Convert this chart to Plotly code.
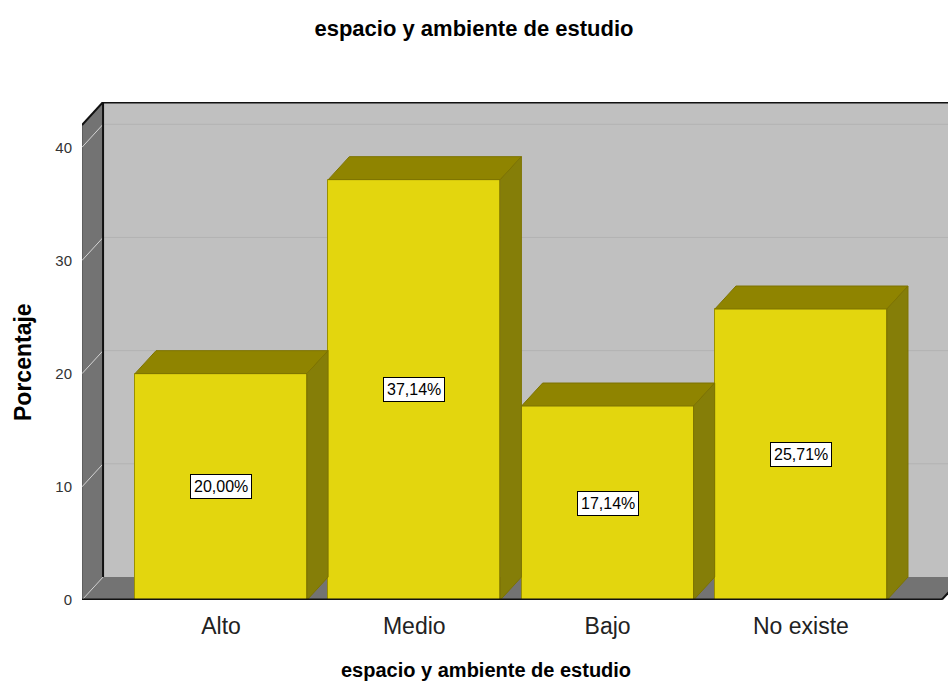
import plotly.graph_objects as go

# Data
categories = ["Alto", "Medio", "Bajo", "No existe"]
percentages = [20.00, 37.14, 17.14, 25.71]
y_ticks = [0, 10, 20, 30, 40]

# 3D styling parameters (depth offsets in axis units)
DX = 0.109
DY = 2.03
BAR_W = 0.89
X_MIN, X_MAX = -0.719, 3.761
Y_MAX = 44.0

FRONT = "#e3d60e"
TOP = "#8f8400"
SIDE = "#857e08"
WALL = "#c0c0c0"
DARK_WALL = "#737373"
FONT = "Liberation Sans, Arial, sans-serif"

xs = list(range(len(categories)))

fig = go.Figure()

# Front faces of bars
fig.add_trace(go.Bar(
    x=xs, y=percentages, width=BAR_W,
    marker=dict(color=FRONT, line=dict(color="#9a9000", width=1)),
    hoverinfo="skip", showlegend=False,
))

# Top and side faces computed from each bar's value
for x, v in zip(xs, percentages):
    l, r = x - BAR_W / 2, x + BAR_W / 2
    fig.add_trace(go.Scatter(
        x=[l, l + DX, r + DX, r, l], y=[v, v + DY, v + DY, v, v],
        fill="toself", fillcolor=TOP, mode="lines",
        line=dict(color="#7d7300", width=1),
        hoverinfo="skip", showlegend=False,
    ))
    fig.add_trace(go.Scatter(
        x=[r, r + DX, r + DX, r, r], y=[0, DY, v + DY, v, 0],
        fill="toself", fillcolor=SIDE, mode="lines",
        line=dict(color="#7d7300", width=1),
        hoverinfo="skip", showlegend=False,
    ))

shapes = []
# back wall
shapes.append(dict(type="rect", xref="x", yref="y", layer="below",
                   x0=X_MIN + DX, x1=X_MAX + 0.2, y0=DY, y1=Y_MAX,
                   fillcolor=WALL, line=dict(width=0)))
# left wall
shapes.append(dict(type="path", xref="x", yref="y", layer="below",
                   path=f"M{X_MIN},0 L{X_MIN + DX},{DY} L{X_MIN + DX},{Y_MAX} "
                        f"L{X_MIN},{Y_MAX - DY} Z",
                   fillcolor=DARK_WALL, line=dict(color="#4a4a4a", width=1)))
# floor
xf = 3.730
shapes.append(dict(type="path", xref="x", yref="y", layer="below",
                   path=f"M{X_MIN},0 L{xf},0 L{xf + DX},{DY} L{X_MIN + DX},{DY} Z",
                   fillcolor=DARK_WALL, line=dict(width=0)))
# gridlines on back wall and left wall
for t in y_ticks:
    if t > 0:
        shapes.append(dict(type="line", xref="x", yref="y", layer="below",
                           x0=X_MIN + DX, x1=X_MAX + 0.2, y0=t + DY, y1=t + DY,
                           line=dict(color="#b2b2b2", width=1)))
    shapes.append(dict(type="line", xref="x", yref="y", layer="below",
                       x0=X_MIN, x1=X_MIN + DX, y0=t, y1=t + DY,
                       line=dict(color="#d4d4d4", width=1)))
# frame edges
edge = dict(color="#111111", width=2)
shapes.append(dict(type="line", xref="x", yref="y", layer="below",
                   x0=X_MIN + DX, x1=X_MIN + DX, y0=DY, y1=Y_MAX, line=edge))
shapes.append(dict(type="line", xref="x", yref="y", layer="below",
                   x0=X_MIN + DX, x1=X_MAX + 0.2, y0=Y_MAX - 0.05, y1=Y_MAX - 0.05,
                   line=edge))
shapes.append(dict(type="line", xref="x", yref="y", layer="below",
                   x0=X_MIN, x1=X_MIN + DX, y0=Y_MAX - DY, y1=Y_MAX, line=edge))
shapes.append(dict(type="line", xref="x", yref="y", layer="above",
                   x0=X_MIN, x1=xf, y0=0.05, y1=0.05, line=edge))
shapes.append(dict(type="line", xref="x", yref="y", layer="above",
                   x0=xf, x1=xf + DX, y0=0.05, y1=DY, line=edge))

# Value labels in the middle of each bar
annotations = []
for x, v in zip(xs, percentages):
    annotations.append(dict(
        x=x, y=v / 2, xref="x", yref="y",
        text=f"{v:.2f}".replace(".", ",") + "%",
        showarrow=False, bgcolor="white", bordercolor="black",
        borderwidth=1, borderpad=3,
        font=dict(family=FONT, size=16, color="black"),
    ))

# Axis titles
annotations.append(dict(
    text="<b>espacio y ambiente de estudio</b>", xref="paper", yref="paper",
    x=0.4665, y=-0.1406, xanchor="center", yanchor="middle", showarrow=False,
    font=dict(family=FONT, size=20, color="black"),
))
annotations.append(dict(
    text="<b>Porcentaje</b>", xref="paper", yref="paper",
    x=-0.0681, y=0.478, xanchor="center", yanchor="middle", showarrow=False,
    textangle=-90, font=dict(family=FONT, size=23, color="black"),
))

fig.update_layout(
    width=948, height=682,
    margin=dict(l=82, r=0, t=102, b=82),
    paper_bgcolor="white", plot_bgcolor="white",
    title=dict(text="<b>espacio y ambiente de estudio</b>", x=0.5, xanchor="center",
               y=1 - 28 / 682, yanchor="middle",
               font=dict(family=FONT, size=22, color="black")),
    shapes=shapes,
    annotations=annotations,
    xaxis=dict(range=[X_MIN, X_MAX], tickvals=xs, ticktext=categories,
               showgrid=False, zeroline=False, showline=False, ticks="",
               ticklabelstandoff=10,
               tickfont=dict(family=FONT, size=23, color="#222222")),
    yaxis=dict(range=[0, Y_MAX], tickvals=y_ticks,
               showgrid=False, zeroline=False, showline=False, ticks="",
               ticklabelstandoff=9,
               tickfont=dict(family=FONT, size=15, color="#333333")),
    bargap=0,
)

fig.write_html("out.html")
